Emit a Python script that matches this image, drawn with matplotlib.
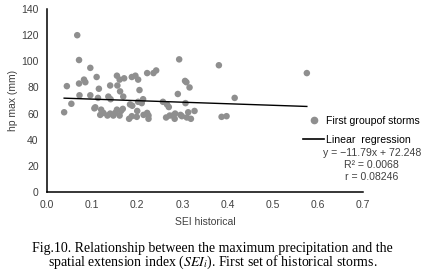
import matplotlib
matplotlib.use('Agg')
import matplotlib.pyplot as plt
import numpy as np
from matplotlib.lines import Line2D

# data
sei = [0.067, 0.071, 0.044, 0.054, 0.038, 0.071, 0.082, 0.085, 0.072, 0.096,
       0.096, 0.110, 0.115, 0.113, 0.105, 0.140, 0.136, 0.141, 0.155, 0.161,
       0.171, 0.156, 0.162, 0.169, 0.188, 0.196, 0.202, 0.205, 0.184, 0.189,
       0.202, 0.210, 0.213, 0.222, 0.236, 0.242, 0.257, 0.266, 0.270, 0.293,
       0.290, 0.306, 0.309, 0.316, 0.307, 0.381,
       0.107, 0.120, 0.118, 0.125, 0.134, 0.140, 0.147, 0.151, 0.155, 0.161,
       0.164, 0.168, 0.182, 0.188, 0.199, 0.200, 0.214, 0.222, 0.225, 0.225,
       0.264, 0.272, 0.279, 0.283, 0.284, 0.296, 0.299, 0.313, 0.319, 0.327,
       0.310, 0.576, 0.416, 0.387, 0.398]
hp = [120, 101, 81, 67.5, 61, 83, 86, 84, 74, 95,
      74, 88, 79, 72, 64, 81.5, 73, 71, 89, 86,
      87, 81.5, 77, 73, 88, 89, 86, 78, 67, 66,
      69, 68, 71, 91, 91, 93, 69, 67, 65, 101.5,
      75, 85, 84, 80, 68, 97,
      64.8, 63, 59, 60.5, 58.5, 60, 58.5, 60.5, 63, 58.5,
      62, 63.6, 56, 58, 57.5, 62, 59, 60.5, 56, 58.5,
      57, 58.5, 58.5, 56, 60, 59, 58, 61, 56, 62,
      57, 91, 72, 57.5, 58]

slope = -11.79
intercept = 72.248
r2 = 0.0068
r = 0.08246

xticks = [0.0, 0.1, 0.2, 0.3, 0.4, 0.5, 0.6, 0.7]
yticks = [0, 20, 40, 60, 80, 100, 120, 140]

plt.rcParams['font.family'] = 'Liberation Sans'
plt.rcParams['mathtext.fontset'] = 'stix'

fig = plt.figure(figsize=(4.25, 2.75), dpi=100)
ax = fig.add_axes([0.1106, 0.302, 0.743, 0.665])

ax.scatter(sei, hp, s=22, color='#8f8f8f', edgecolors='none', zorder=2)
xl = np.array([min(sei), max(sei)])
ax.plot(xl, slope * xl + intercept, color='black', lw=1.0, zorder=3)

ax.set_xlim(0, 0.7)
ax.set_ylim(0, 140)
ax.set_xticks(xticks)
ax.set_xticklabels(['%.1f' % v for v in xticks])
ax.set_yticks(yticks)
ax.tick_params(length=0, labelsize=7.5, labelcolor='#404040', pad=6)
for s in ['top', 'right']:
    ax.spines[s].set_visible(False)
for s in ['left', 'bottom']:
    ax.spines[s].set_linewidth(1.1)
ax.set_xlabel('SEI historical', fontsize=7.5, color='#404040', labelpad=5)
ax.set_ylabel('hp max (mm)', fontsize=7.5, color='#404040', labelpad=2)

handles = [Line2D([], [], ls='none', marker='o', ms=4.5, color='#8f8f8f'),
           Line2D([], [], color='black', lw=1.2)]
fig.legend(handles, ['First groupof storms', 'Linear  regression'],
           loc='upper left', bbox_to_anchor=(0.713, 0.578), frameon=False,
           fontsize=7.6, handlelength=2.0, handletextpad=0.15, labelspacing=0.85,
           borderaxespad=0, borderpad=0)
eq = 'y = \u221211.79x + 72.248\nR\u00b2 = %.4f\nr = %.5f' % (r2, r)
fig.text(0.875, 0.46, eq, ha='center', va='top', fontsize=7.6, color='#404040',
         linespacing=1.25)

fig.text(0.5, 0.098, 'Fig.10. Relationship between the maximum precipitation and the',
         ha='center', va='center', fontsize=10, family='Liberation Serif')
fig.text(0.5, 0.045, r'spatial extension index ($\mathit{SEI_i}$). First set of historical storms.',
         ha='center', va='center', fontsize=10, family='Liberation Serif')

fig.savefig('out.png', dpi=100)
